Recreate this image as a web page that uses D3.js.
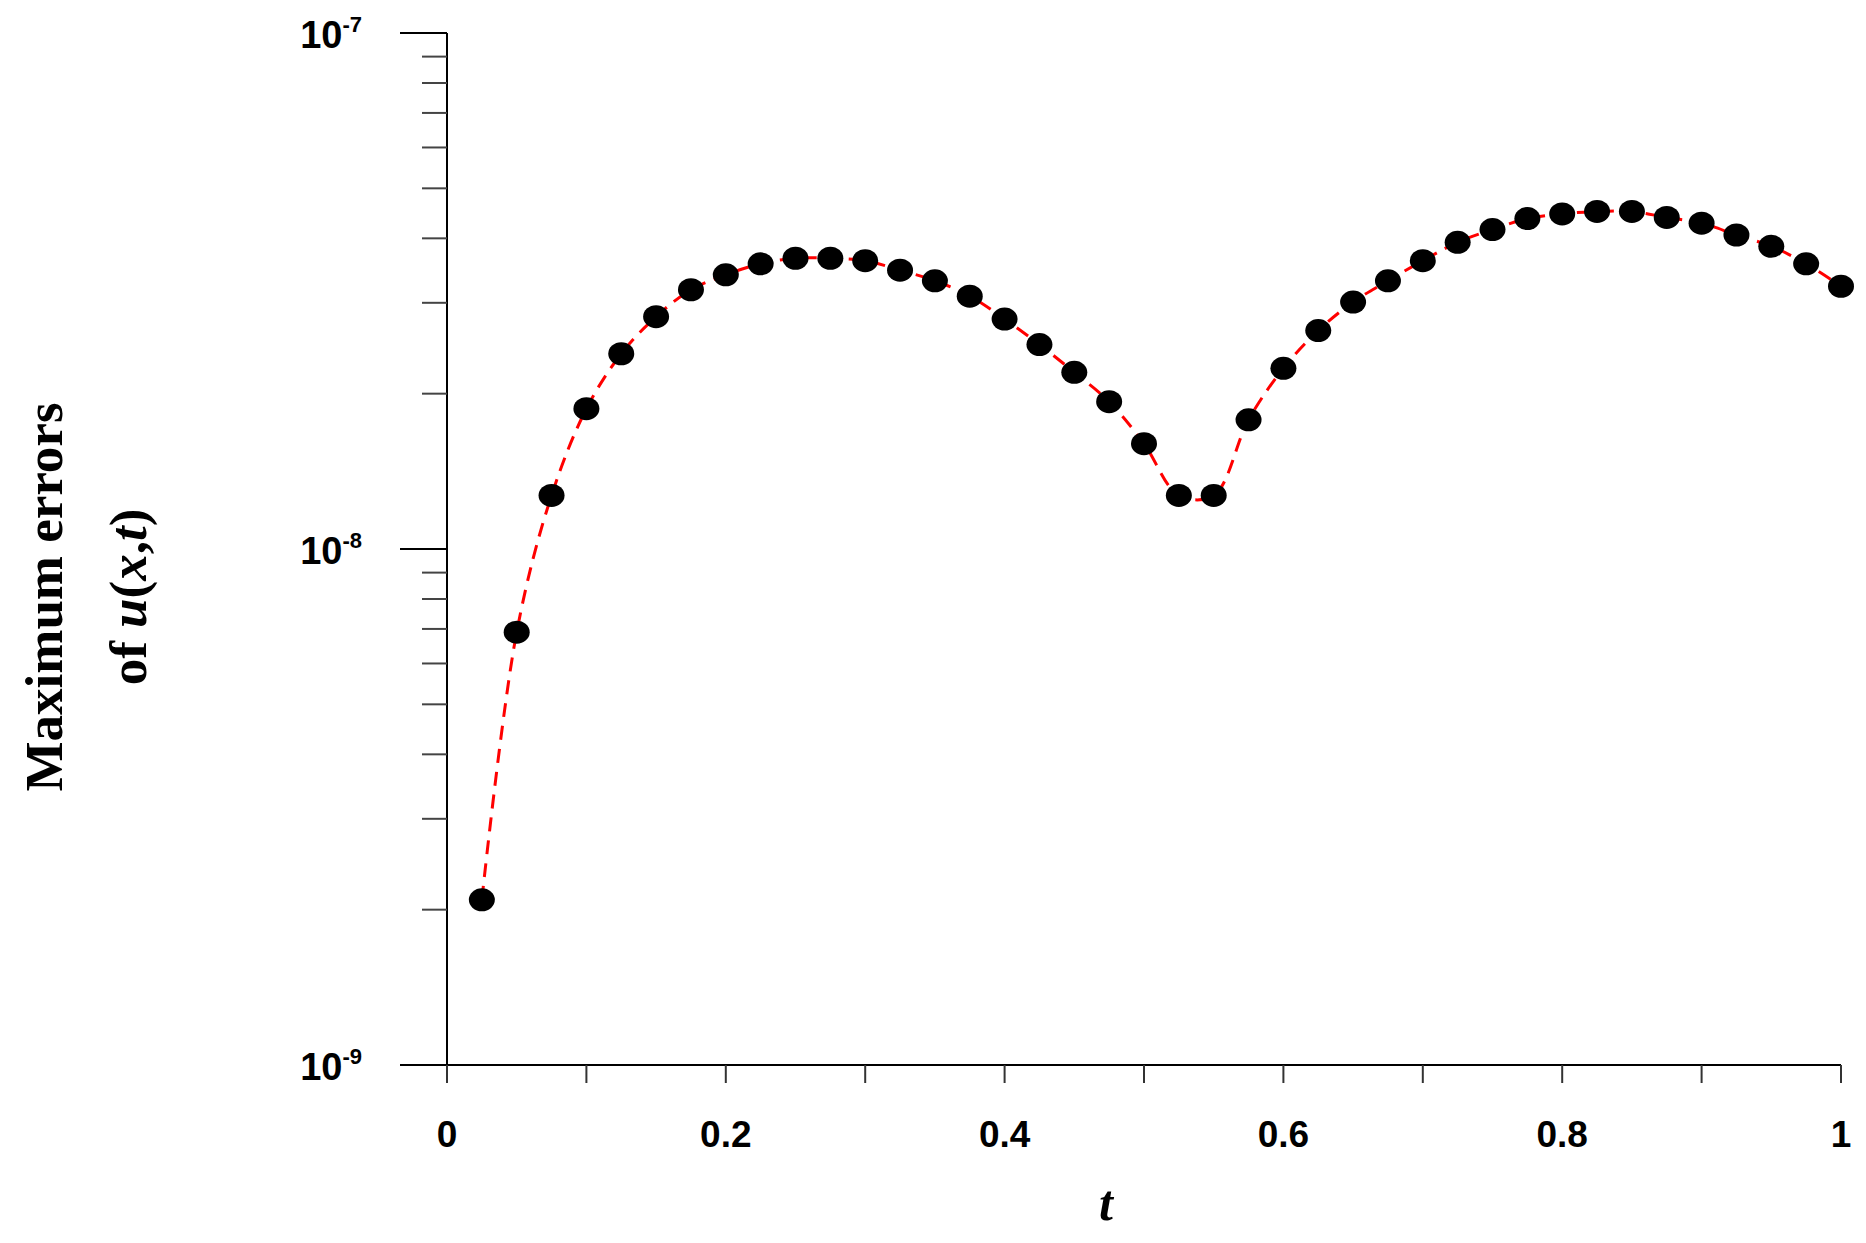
<!DOCTYPE html>
<html><head><meta charset="utf-8">
<script src="https://cdn.jsdelivr.net/npm/d3@7"></script>
<style>body{margin:0;background:#fff}</style></head>
<body><svg id="c" width="1866" height="1243"></svg>
<script>
const tValues = d3.range(1,41).map(i=>i*0.025);
const errValues = [2.09e-9,6.9e-9,1.27e-8,1.87e-8,2.39e-8,2.82e-8,3.18e-8,3.40e-8,3.57e-8,3.66e-8,
3.66e-8,3.62e-8,3.47e-8,3.31e-8,3.09e-8,2.79e-8,2.49e-8,2.20e-8,1.93e-8,1.60e-8,
1.27e-8,1.27e-8,1.78e-8,2.24e-8,2.65e-8,3.01e-8,3.31e-8,3.62e-8,3.93e-8,4.16e-8,
4.37e-8,4.46e-8,4.51e-8,4.51e-8,4.39e-8,4.28e-8,4.06e-8,3.86e-8,3.57e-8,3.23e-8];
const xTicks = [0,0.2,0.4,0.6,0.8,1];
const yMajor = [1e-9,1e-8,1e-7];
const yExp = ["-9","-8","-7"];

const svg = d3.select("#c");
const x = d3.scaleLinear().domain([0,1]).range([447,1841]);
const y = d3.scaleLog().domain([1e-9,1e-7]).range([1065,33]);

svg.append("line").attr("x1",447).attr("x2",447).attr("y1",y(1e-7)).attr("y2",y(1e-9)).attr("stroke","#000").attr("stroke-width",2);
const minor=[];
[1e-9,1e-8].forEach(b=>{for(let k=2;k<=9;k++)minor.push(b*k);});
svg.selectAll(".ym").data(minor).enter().append("line")
 .attr("x1",422).attr("x2",447).attr("y1",d=>y(d)).attr("y2",d=>y(d)).attr("stroke","#444").attr("stroke-width",2);
svg.selectAll(".yM").data(yMajor).enter().append("line")
 .attr("x1",400).attr("x2",447).attr("y1",d=>y(d)).attr("y2",d=>y(d)).attr("stroke","#000").attr("stroke-width",2);
const yl = svg.selectAll(".yl").data(yMajor).enter().append("text")
 .attr("x",362).attr("y",d=>y(d)+15).attr("text-anchor","end")
 .attr("font-family","Liberation Sans, Arial").attr("font-weight","bold").attr("font-size",38);
yl.append("tspan").text("10");
yl.append("tspan").text((d,i)=>yExp[i]).attr("font-size",22).attr("dy",-16);

svg.append("line").attr("x1",447).attr("x2",1841).attr("y1",1065).attr("y2",1065).attr("stroke","#000").attr("stroke-width",2);
svg.selectAll(".xt").data(d3.range(0,11).map(i=>i/10)).enter().append("line")
 .attr("x1",d=>x(d)).attr("x2",d=>x(d)).attr("y1",1065).attr("y2",1083).attr("stroke","#333").attr("stroke-width",2);
svg.selectAll(".xl").data(xTicks).enter().append("text")
 .attr("x",d=>x(d)).attr("y",1147).attr("text-anchor","middle")
 .attr("font-family","Liberation Sans, Arial").attr("font-weight","bold").attr("font-size",37)
 .text(d=>d);

const pts = tValues.map((t,i)=>[t,errValues[i]]);
svg.append("path").datum(pts)
 .attr("d",d3.line().x(d=>x(d[0])).y(d=>y(d[1])).curve(d3.curveCatmullRom))
 .attr("fill","none").attr("stroke","#f00").attr("stroke-width",3).attr("stroke-dasharray","14,9");
svg.selectAll(".pt").data(pts).enter().append("ellipse")
 .attr("cx",d=>x(d[0])).attr("cy",d=>y(d[1])).attr("rx",13).attr("ry",11.5).attr("fill","#000");

svg.append("text").attr("x",1106).attr("y",1220).attr("text-anchor","middle")
 .attr("font-family","Liberation Serif, Times New Roman").attr("font-weight","bold").attr("font-style","italic").attr("font-size",50).text("t");
const g = svg.append("g").attr("transform","translate(0,597) rotate(-90)");
g.append("text").attr("x",0).attr("y",62).attr("text-anchor","middle")
 .attr("font-family","Liberation Serif, Times New Roman").attr("font-weight","bold").attr("font-size",53).text("Maximum errors");
const t2 = g.append("text").attr("x",0).attr("y",146).attr("text-anchor","middle")
 .attr("font-family","Liberation Serif, Times New Roman").attr("font-weight","bold").attr("font-size",53);
t2.append("tspan").text("of ");
t2.append("tspan").attr("font-style","italic").text("u");
t2.append("tspan").text("(");
t2.append("tspan").attr("font-style","italic").text("x");
t2.append("tspan").text(",");
t2.append("tspan").attr("font-style","italic").text("t");
t2.append("tspan").text(")");
</script></body></html>
